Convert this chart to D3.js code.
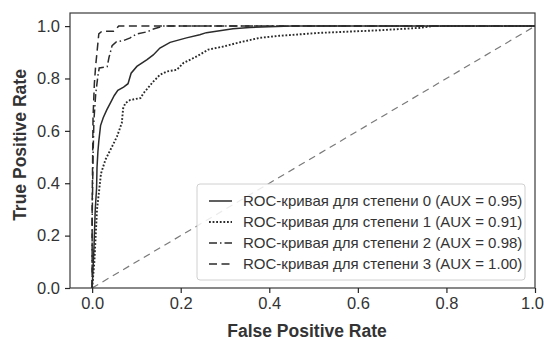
<!DOCTYPE html>
<html><head><meta charset="utf-8">
<script src="https://cdn.jsdelivr.net/npm/d3@7"></script>
<style>
html,body{margin:0;padding:0;background:#fff;}
svg{display:block;font-family:"Liberation Sans",Arial,sans-serif;}
</style></head>
<body>
<svg id="chart" width="544" height="340"></svg>
<script>
// ---- data ----
const fpr0 = [0, 0.004, 0.007, 0.01, 0.011, 0.013, 0.015, 0.019, 0.025, 0.033, 0.041, 0.05, 0.058, 0.071, 0.081, 0.088, 0.101, 0.124, 0.138, 0.153, 0.176, 0.213, 0.243, 0.258, 0.318, 0.356, 0.45, 1.0];
const tpr0 = [0, 0.15, 0.3, 0.38, 0.46, 0.52, 0.56, 0.62, 0.65, 0.68, 0.706, 0.735, 0.755, 0.767, 0.78, 0.82, 0.846, 0.872, 0.89, 0.916, 0.938, 0.955, 0.967, 0.975, 0.99, 0.995, 1.0, 1.0];
const fpr1 = [0, 0.005, 0.011, 0.015, 0.02, 0.03, 0.045, 0.056, 0.067, 0.07, 0.075, 0.086, 0.109, 0.116, 0.138, 0.153, 0.169, 0.191, 0.206, 0.236, 0.262, 0.296, 0.333, 0.378, 0.423, 0.513, 0.648, 0.738, 0.77, 1.0];
const tpr1 = [0, 0.1, 0.3, 0.36, 0.437, 0.49, 0.54, 0.578, 0.63, 0.686, 0.706, 0.718, 0.725, 0.744, 0.788, 0.814, 0.827, 0.833, 0.859, 0.884, 0.91, 0.922, 0.938, 0.955, 0.963, 0.974, 0.984, 0.993, 1.0, 1.0];
const fpr2 = [0, 0.0, 0.002, 0.004, 0.008, 0.013, 0.016, 0.034, 0.038, 0.045, 0.055, 0.07, 0.086, 0.1, 0.124, 0.14, 0.16, 1.0];
const tpr2 = [0, 0.25, 0.5, 0.64, 0.74, 0.81, 0.84, 0.845, 0.88, 0.925, 0.94, 0.944, 0.955, 0.97, 0.978, 0.99, 1.0, 1.0];
const fpr3 = [0, 0.0, 0.002, 0.005, 0.008, 0.011, 0.015, 0.022, 0.048, 0.06, 0.77, 1.0];
const tpr3 = [0, 0.3, 0.65, 0.78, 0.85, 0.9, 0.97, 0.98, 0.98, 1.0, 1.0, 1.0];
const legendLabels = [
  "ROC-кривая для степени 0 (AUX = 0.95)",
  "ROC-кривая для степени 1 (AUX = 0.91)",
  "ROC-кривая для степени 2 (AUX = 0.98)",
  "ROC-кривая для степени 3 (AUX = 1.00)"
];
const xTicks = [0.0, 0.2, 0.4, 0.6, 0.8, 1.0];
const yTicks = [0.0, 0.2, 0.4, 0.6, 0.8, 1.0];
const diagX = [0, 1];
const diagY = [0, 1];

// ---- layout ----
const L = 70, R = 535, T = 13, B = 288;
const x = d3.scaleLinear().domain([-0.05, 1.0]).range([L, R]);
const y = d3.scaleLinear().domain([0, 1.05]).range([B, T]);
const svg = d3.select("#chart");
const ink = "#262626";

const curves = [
  {fx: fpr0, ty: tpr0, dash: null, w: 1.5},
  {fx: fpr1, ty: tpr1, dash: "1.8,1.8", w: 1.9},
  {fx: fpr2, ty: tpr2, dash: "8,3,1.5,3", w: 1.5},
  {fx: fpr3, ty: tpr3, dash: "8,4.5", w: 1.5}
];

const line = d3.line().x(d => x(d[0])).y(d => y(d[1]));

svg.append("clipPath").attr("id","clip").append("rect")
  .attr("x", L).attr("y", T).attr("width", R-L).attr("height", B-T);
const g = svg.append("g").attr("clip-path","url(#clip)");

// diagonal
g.append("path").datum(d3.zip(diagX, diagY)).attr("d", line)
  .attr("fill","none").attr("stroke","#7a7a7a").attr("stroke-width",1.2)
  .attr("stroke-dasharray","7,5");

curves.forEach(c => {
  g.append("path").datum(d3.zip(c.fx, c.ty)).attr("d", line)
    .attr("fill","none").attr("stroke","#2b2b2b").attr("stroke-width",c.w)
    .attr("stroke-dasharray", c.dash);
});

// frame
svg.append("rect").attr("x", L).attr("y", T).attr("width", R-L).attr("height", B-T)
  .attr("fill","none").attr("stroke","#3a3a3a").attr("stroke-width",1.2);

// axes
const xAxis = svg.append("g").attr("transform", `translate(0,${B})`)
  .call(d3.axisBottom(x).tickValues(xTicks).tickFormat(d3.format(".1f")).tickSize(5).tickPadding(4));
const yAxis = svg.append("g").attr("transform", `translate(${L},0)`)
  .call(d3.axisLeft(y).tickValues(yTicks).tickFormat(d3.format(".1f")).tickSize(5).tickPadding(5));
[xAxis, yAxis].forEach(a => {
  a.select(".domain").remove();
  a.selectAll(".tick line").attr("stroke", ink).attr("stroke-width",1.2);
  a.selectAll(".tick text").attr("fill", "#333").attr("font-size", 16.5)
    .attr("font-family", "Liberation Sans, Arial, sans-serif");
});
xAxis.selectAll(".tick text").filter(d => d === 1.0).attr("dx", -3);

// axis labels
svg.append("text").attr("x", 307).attr("y", 337).attr("text-anchor","middle")
  .attr("font-size", 17.5).attr("font-weight","bold").attr("fill","#333")
  .text("False Positive Rate");
svg.append("text").attr("transform", `translate(26,${145}) rotate(-90)`).attr("text-anchor","middle")
  .attr("font-size", 17.5).attr("font-weight","bold").attr("fill","#333")
  .text("True Positive Rate");

// legend
const lg = svg.append("g");
lg.append("rect").attr("x",197).attr("y",184).attr("width",328).attr("height",96)
  .attr("rx",3).attr("fill","#fff").attr("fill-opacity",0.85)
  .attr("stroke","#d0d0d0").attr("stroke-width",1);
legendLabels.forEach((lab, i) => {
  const yy = 201 + i*21;
  lg.append("line").attr("x1",209).attr("x2",232).attr("y1",yy).attr("y2",yy)
    .attr("stroke","#2b2b2b").attr("stroke-width",curves[i].w)
    .attr("stroke-dasharray", curves[i].dash);
  lg.append("text").attr("x",243).attr("y",yy).attr("dy","0.36em")
    .attr("font-size",15).attr("fill","#333").text(lab);
});
</script>
</body></html>
